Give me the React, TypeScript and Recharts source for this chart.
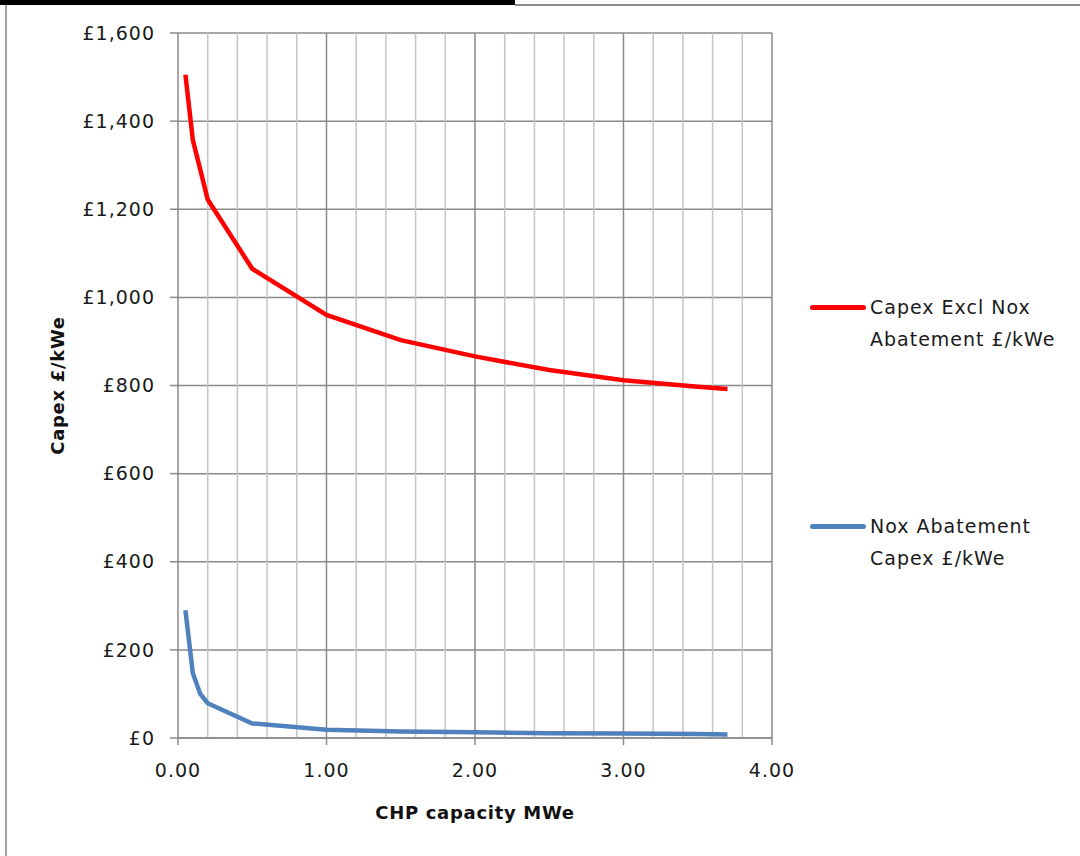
import React from 'react';

import { LineChart, Line, XAxis, YAxis, CartesianGrid, ReferenceLine, Legend, Label } from 'recharts';

const capacity = [0.05, 0.1, 0.15, 0.2, 0.5, 1.0, 1.5, 2.0, 2.5, 3.0, 3.5, 3.7];
const capexExclNox = [1505, 1357, 1290, 1222, 1065, 960, 903, 866, 835, 812, 797, 792];
const noxAbatement = [290, 147, 100, 79, 33, 19, 15, 13, 11, 10, 9, 8];

const xTicks = [0, 1, 2, 3, 4];
const xMinorGrid = [0.2, 0.4, 0.6, 0.8, 1.2, 1.4, 1.6, 1.8, 2.2, 2.4, 2.6, 2.8, 3.2, 3.4, 3.6, 3.8];
const yTicks = [0, 200, 400, 600, 800, 1000, 1200, 1400, 1600];

const seriesNames = ['Capex Excl Nox Abatement £/kWe', 'Nox Abatement Capex £/kWe'];
const seriesColors = ['#ff0000', '#4f81bd'];

const data = capacity.map((c, i) => ({
  capacity: c,
  capex: capexExclNox[i],
  nox: noxAbatement[i],
}));

const font = '"DejaVu Sans", Verdana, sans-serif';
const tickStyle = { fontFamily: font, fontSize: 19, fill: '#1a1a1a', letterSpacing: 1 };
const titleStyle = { fontFamily: font, fontSize: 18, fontWeight: 'bold', fill: '#111', letterSpacing: 0.7 };

const LegendBox = ({ payload }) => (
  <div style={{ fontFamily: font, fontSize: 19, color: '#1a1a1a', letterSpacing: 1 }}>
    {(payload || []).map((item, i) => (
      <div key={i} style={{ display: 'flex', alignItems: 'flex-start', marginBottom: i === 0 ? 155 : 0 }}>
        <div style={{ width: 56, height: 5, borderRadius: 3, background: item.color, marginTop: 14, marginRight: 4 }} />
        <div style={{ width: 206, lineHeight: '32px' }}>{item.value}</div>
      </div>
    ))}
  </div>
);

export default function App() {
  return (
    <div style={{ position: 'absolute', left: 0, top: 0, width: 1080, height: 856, background: '#fff' }}>
      <div style={{ position: 'absolute', left: 0, top: 0, width: 515, height: 5, background: '#000' }} />
      <div style={{ position: 'absolute', left: 515, top: 4, width: 565, height: 2, background: '#8c8c8c' }} />
      <div style={{ position: 'absolute', left: 5, top: 5, width: 2, height: 851, background: '#a0a0a0' }} />
      <LineChart width={1080} height={856} data={data}
                 margin={{ top: 33, right: 308, left: 0, bottom: 0 }}>
        <CartesianGrid stroke="#8a8a8a" strokeWidth={1.5} vertical={false} />
        {xMinorGrid.map((v) => (
          <ReferenceLine key={v} x={v} stroke="#c4c4c4" strokeWidth={1.5} />
        ))}
        {xTicks.slice(1).map((v) => (
          <ReferenceLine key={'m' + v} x={v} stroke="#8a8a8a" strokeWidth={1.5} />
        ))}
        <XAxis dataKey="capacity" type="number" domain={[0, 4]} ticks={xTicks}
               tickFormatter={(v) => v.toFixed(2)} height={118}
               tickSize={7} tickMargin={19} tick={tickStyle}
               stroke="#8a8a8a" strokeWidth={1.5}>
          <Label value="CHP capacity MWe" position="center" dy={16} style={titleStyle} />
        </XAxis>
        <YAxis type="number" domain={[0, 1600]} ticks={yTicks} width={178}
               tickFormatter={(v) => '£' + v.toLocaleString('en-GB')}
               tickSize={8} tickMargin={15} tick={tickStyle}
               stroke="#8a8a8a" strokeWidth={1.5}>
          <Label value="Capex £/kWe" position="center" angle={-90} dx={-31}
                 style={{ ...titleStyle, textAnchor: 'middle' }} />
        </YAxis>
        <Legend layout="vertical" align="center" verticalAlign="middle"
                wrapperStyle={{ left: 810, top: 291, width: 270 }} content={<LegendBox />} />
        <Line type="linear" dataKey="capex" name={seriesNames[0]} stroke={seriesColors[0]}
              strokeWidth={4.5} dot={false} isAnimationActive={false} />
        <Line type="linear" dataKey="nox" name={seriesNames[1]} stroke={seriesColors[1]}
              strokeWidth={4.5} dot={false} isAnimationActive={false} />
      </LineChart>
    </div>
  );
}
